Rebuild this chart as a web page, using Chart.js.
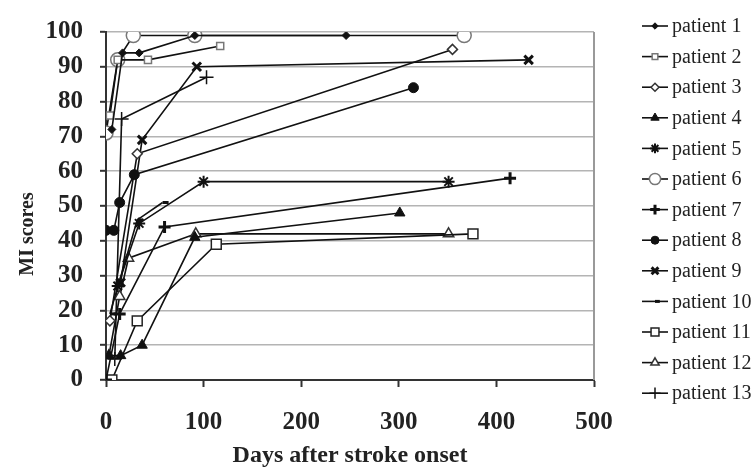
<!DOCTYPE html>
<html lang="en">
<head>
<meta charset="UTF-8" />
<title>MI scores after stroke</title>
<script src="https://cdn.jsdelivr.net/npm/chart.js"></script>
<style>
  html, body { margin: 0; padding: 0; background: #fff; }
</style>
</head>
<body>
<canvas id="miChart" width="753" height="468"></canvas>
<script>
  // days after onset / MI score, one pair of arrays per patient
  const p1Days = [6, 17, 34, 91, 246];       const p1Scores = [72, 94, 94, 99, 99];
  const p2Days = [4, 12, 43, 117];           const p2Scores = [76, 92, 92, 96];
  const p3Days = [4, 32, 355];               const p3Scores = [17, 65, 95];
  const p4Days = [3, 15, 37, 91, 301];       const p4Scores = [7, 7, 10, 41, 48];
  const p5Days = [12, 34, 100, 351];         const p5Scores = [27, 45, 57, 57];
  const p6Days = [0, 12, 28, 91, 367];       const p6Scores = [71, 92, 99, 99, 99];
  const p7Days = [0, 14, 60, 414];           const p7Scores = [0, 19, 44, 58];
  const p8Days = [0, 8, 14, 29, 315];        const p8Scores = [43, 43, 51, 59, 84];
  const p9Days = [15, 37, 93, 433];          const p9Scores = [28, 69, 90, 92];
  const p10Days = [4, 32, 58];               const p10Scores = [19, 46, 51];
  const p11Days = [6, 32, 113, 376];         const p11Scores = [0, 17, 39, 42];
  const p12Days = [3, 14, 23, 92, 351];      const p12Scores = [7, 24, 35, 42, 42];
  const p13Days = [9, 16, 103];              const p13Scores = [6, 75, 87];

  const patientNames = ['patient 1', 'patient 2', 'patient 3', 'patient 4', 'patient 5', 'patient 6',
    'patient 7', 'patient 8', 'patient 9', 'patient 10', 'patient 11', 'patient 12', 'patient 13'];
  const xTicks = [0, 100, 200, 300, 400, 500];
  const yTicks = [0, 10, 20, 30, 40, 50, 60, 70, 80, 90, 100];

  const allDays = [p1Days, p2Days, p3Days, p4Days, p5Days, p6Days, p7Days, p8Days, p9Days, p10Days, p11Days, p12Days, p13Days];
  const allScores = [p1Scores, p2Scores, p3Scores, p4Scores, p5Scores, p6Scores, p7Scores, p8Scores, p9Scores, p10Scores, p11Scores, p12Scores, p13Scores];

  // marker look for each patient (Excel style)
  const markers = [
    { style: 'rectRot',  r: 4, fill: '#111', border: '#111', bw: 1 },
    { style: 'rect',     r: 5, fill: '#fff', border: '#777', bw: 1.5 },
    { style: 'rectRot',  r: 5, fill: '#fff', border: '#333', bw: 1.5 },
    { style: 'triangle', r: 6, fill: '#111', border: '#111', bw: 1 },
    { style: 'star',     r: 6, fill: '#111', border: '#111', bw: 2 },
    { style: 'circle',   r: 7, fill: '#fff', border: '#777', bw: 1.5 },
    { style: 'cross',    r: 6, fill: '#111', border: '#111', bw: 3 },
    { style: 'circle',   r: 5, fill: '#111', border: '#111', bw: 1 },
    { style: 'crossRot', r: 6, fill: '#111', border: '#111', bw: 3 },
    { style: 'dash',     r: 6, fill: '#111', border: '#111', bw: 3 },
    { style: 'rect',     r: 7, fill: '#fff', border: '#222', bw: 1.5 },
    { style: 'triangle', r: 6, fill: '#fff', border: '#333', bw: 1.5 },
    { style: 'cross',    r: 7, fill: '#111', border: '#111', bw: 1.5 }
  ];

  const datasets = patientNames.map((name, i) => ({
    label: name,
    data: allDays[i].map((d, j) => ({ x: d, y: allScores[i][j] })),
    showLine: true,
    borderColor: '#111',
    borderWidth: 1.6,
    pointStyle: markers[i].style,
    pointRadius: markers[i].r,
    pointBackgroundColor: markers[i].fill,
    pointBorderColor: markers[i].border,
    pointBorderWidth: markers[i].bw
  }));

  // right border of plot, y title (sits below centre in the original) and legend with line + marker
  const framePlugin = {
    id: 'frame',
    beforeDatasetsDraw(chart) {
      const { ctx, chartArea } = chart;
      ctx.save();
      ctx.strokeStyle = '#999';
      ctx.lineWidth = 2;
      ctx.beginPath();
      ctx.moveTo(chartArea.right, chartArea.top);
      ctx.lineTo(chartArea.right, chartArea.bottom);
      ctx.stroke();
      ctx.restore();
    },
    afterDraw(chart) {
      const ctx = chart.ctx;
      ctx.save();
      ctx.translate(28, 234);
      ctx.rotate(-Math.PI / 2);
      ctx.fillStyle = '#222';
      ctx.font = 'bold 20px "Liberation Serif"';
      ctx.textAlign = 'center';
      ctx.textBaseline = 'middle';
      ctx.fillText('MI scores', 0, 0);
      ctx.restore();

      ctx.save();
      patientNames.forEach((name, i) => {
        const y = 26 + i * 30.6;
        ctx.strokeStyle = '#111';
        ctx.lineWidth = 1.6;
        ctx.beginPath();
        ctx.moveTo(642, y);
        ctx.lineTo(668, y);
        ctx.stroke();
        const m = markers[i];
        ctx.fillStyle = m.fill;
        ctx.strokeStyle = m.border;
        ctx.lineWidth = m.bw;
        Chart.helpers.drawPoint(ctx, { pointStyle: m.style, radius: m.r * 0.8, rotation: 0, borderWidth: m.bw }, 655, y);
        ctx.fillStyle = '#222';
        ctx.font = '20px "Liberation Serif"';
        ctx.textBaseline = 'middle';
        ctx.textAlign = 'left';
        ctx.fillText(name, 672, y + 1);
      });
      ctx.restore();
    }
  };

  new Chart(document.getElementById('miChart'), {
    type: 'scatter',
    data: { datasets },
    options: {
      responsive: false,
      animation: false,
      layout: { padding: { left: 4, right: 159, top: 18, bottom: 0 } },
      plugins: { legend: { display: false }, tooltip: { enabled: false } },
      scales: {
        x: {
          type: 'linear', min: 0, max: 500,
          afterBuildTicks: (s) => { s.ticks = xTicks.map(v => ({ value: v })); },
          afterFit: (s) => { s.height = 88; },
          ticks: { color: '#222', padding: 21, font: { family: 'Liberation Serif', size: 25, weight: 'bold' } },
          grid: { drawOnChartArea: false, drawTicks: true, tickLength: 7, tickColor: '#333', tickWidth: 2 },
          border: { color: '#333', width: 2 },
          title: { display: true, text: 'Days after stroke onset', color: '#222', padding: { top: 0, bottom: 0 },
                   font: { family: 'Liberation Serif', size: 24, weight: 'bold', lineHeight: 1 } }
        },
        y: {
          type: 'linear', min: 0, max: 100,
          afterBuildTicks: (s) => { s.ticks = yTicks.map(v => ({ value: v })); },
          afterFit: (s) => { s.width = 102; },
          ticks: { color: '#222', padding: 17, font: { family: 'Liberation Serif', size: 25, weight: 'bold' } },
          grid: { color: '#b4b4b4', lineWidth: 1.6, tickLength: 6, tickColor: '#333', tickWidth: 2 },
          border: { color: '#333', width: 2 },
          title: { display: false }
        }
      }
    },
    plugins: [framePlugin]
  });
</script>
</body>
</html>
